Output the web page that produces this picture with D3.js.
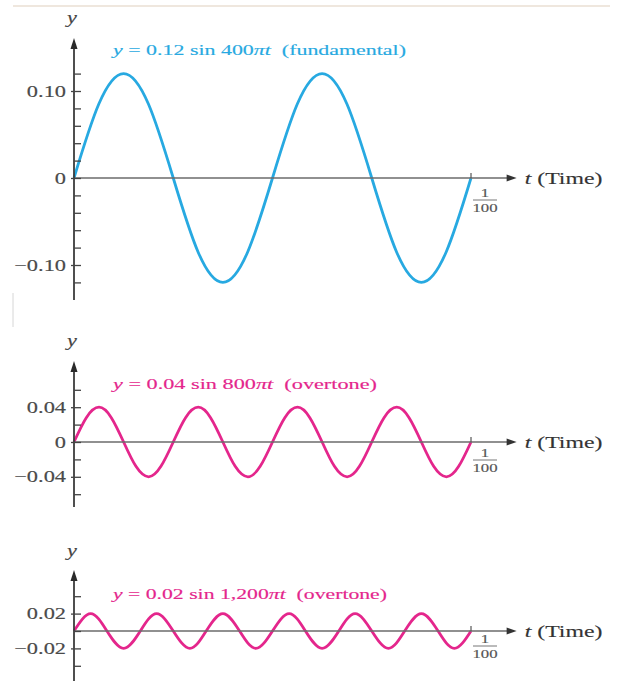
<!DOCTYPE html>
<html>
<head>
<meta charset="utf-8">
<script src="https://cdn.jsdelivr.net/npm/d3@7"></script>
<style>
  body { margin: 0; background: #fff; }
  text { white-space: pre; }
</style>
</head>
<body>
<div id="chart"></div>
<script>
// sample points (t in ms, y in the plotted units)
const tFund = [0, 0.625, 1.25, 1.875, 2.5, 3.125, 3.75, 4.375, 5, 5.625, 6.25, 6.875, 7.5, 8.125, 8.75, 9.375, 10];
const yFund = [0, 0.085, 0.12, 0.085, 0, -0.085, -0.12, -0.085, 0, 0.085, 0.12, 0.085, 0, -0.085, -0.12, -0.085, 0];

const tOver1 = [0, 0.31, 0.63, 0.94, 1.25, 1.56, 1.88, 2.19, 2.5, 2.81, 3.13, 3.44, 3.75, 4.06, 4.38, 4.69,
  5, 5.31, 5.63, 5.94, 6.25, 6.56, 6.88, 7.19, 7.5, 7.81, 8.13, 8.44, 8.75, 9.06, 9.38, 9.69, 10];
const yOver1 = [0, 0.028, 0.04, 0.028, 0, -0.028, -0.04, -0.028, 0, 0.028, 0.04, 0.028, 0, -0.028, -0.04, -0.028,
  0, 0.028, 0.04, 0.028, 0, -0.028, -0.04, -0.028, 0, 0.028, 0.04, 0.028, 0, -0.028, -0.04, -0.028, 0];

const tOver2 = [0, 0.42, 0.83, 1.25, 1.67, 2.08, 2.5, 2.92, 3.33, 3.75, 4.17, 4.58, 5, 5.42, 5.83, 6.25,
  6.67, 7.08, 7.5, 7.92, 8.33, 8.75, 9.17, 9.58, 10];
const yOver2 = [0, 0.02, 0, -0.02, 0, 0.02, 0, -0.02, 0, 0.02, 0, -0.02, 0, 0.02, 0, -0.02,
  0, 0.02, 0, -0.02, 0, 0.02, 0, -0.02, 0];

// tick values and labels
const ticksFund = [-0.12, -0.10, -0.08, -0.06, -0.04, -0.02, 0, 0.02, 0.04, 0.06, 0.08, 0.10, 0.12];
const labelsFund = { "0.1": "0.10", "0": "0", "-0.1": "\u22120.10" };
const ticksOver1 = [-0.06, -0.04, -0.02, 0, 0.02, 0.04, 0.06];
const labelsOver1 = { "0.04": "0.04", "0": "0", "-0.04": "\u22120.04" };
const ticksOver2 = [-0.04, -0.02, 0, 0.02, 0.04];
const labelsOver2 = { "0.02": "0.02", "-0.02": "\u22120.02" };

const titleFund = [["y", true], [" = 0.12 sin 400", false], ["\u03c0t", true], ["  (fundamental)", false]];
const titleOver1 = [["y", true], [" = 0.04 sin 800", false], ["\u03c0t", true], ["  (overtone)", false]];
const titleOver2 = [["y", true], [" = 0.02 sin 1,200", false], ["\u03c0t", true], ["  (overtone)", false]];

const width = 623, height = 681;
const sx = 1.4;          // the source picture is stretched horizontally
const serif = "'Liberation Serif', 'Times New Roman', serif";
const blue = "#27a9e1", pink = "#e4268c";

const svg = d3.select("#chart").append("svg")
  .attr("width", width)
  .attr("height", height);

// faint scan edges
svg.append("line").attr("x1", 13).attr("x2", 610).attr("y1", 6).attr("y2", 6)
  .attr("stroke", "#eadfd3").attr("stroke-width", 1.5);
svg.append("line").attr("x1", 13).attr("x2", 13).attr("y1", 293).attr("y2", 327)
  .attr("stroke", "#d6d6d6").attr("stroke-width", 1);

const x = d3.scaleLinear().domain([0, 10]).range([74, 471]);
const pxPerUnit = 870;

const panels = [
  { t: tFund, y: yFund, ticks: ticksFund, labels: labelsFund, title: titleFund, color: blue,
    zero: 178, top: 38, bottom: 300, yLab: 23, titleY: 55, titleW: 293, fracDy: 19 },
  { t: tOver1, y: yOver1, ticks: ticksOver1, labels: labelsOver1, title: titleOver1, color: pink,
    zero: 442, top: 361, bottom: 507, yLab: 346, titleY: 389, titleW: 264, fracDy: 15 },
  { t: tOver2, y: yOver2, ticks: ticksOver2, labels: labelsOver2, title: titleOver2, color: pink,
    zero: 631, top: 570, bottom: 690, yLab: 556, titleY: 599, titleW: 274, fracDy: 12 }
];

function stretched(g, px, py, size, fill) {
  return g.append("text")
    .attr("transform", `translate(${px},${py}) scale(${sx},1)`)
    .attr("font-family", serif)
    .attr("font-size", size)
    .attr("fill", fill)
    .attr("stroke", fill)
    .attr("stroke-width", 0.15);
}

panels.forEach(p => {
  const y = d3.scaleLinear().domain([0, 0.1]).range([p.zero, p.zero - 0.1 * pxPerUnit]);
  const g = svg.append("g");
  const x0 = x(0);

  // curve
  const line = d3.line()
    .x((d, i) => x(p.t[i]))
    .y(d => y(d))
    .curve(d3.curveNatural);
  g.append("path")
    .datum(p.y)
    .attr("fill", "none")
    .attr("stroke", p.color)
    .attr("stroke-width", 2.8)
    .attr("d", line);

  // horizontal axis with arrow
  const xEnd = x(11.15);
  g.append("line").attr("x1", x0).attr("x2", xEnd - 6).attr("y1", p.zero).attr("y2", p.zero)
    .attr("stroke", "#6b6b6b").attr("stroke-width", 1.6);
  g.append("path")
    .attr("d", `M${xEnd - 10},${p.zero - 3.5}L${xEnd},${p.zero}L${xEnd - 10},${p.zero + 3.5}Z`)
    .attr("fill", "#333");
  g.append("line").attr("x1", x(10)).attr("x2", x(10)).attr("y1", p.zero - 5).attr("y2", p.zero)
    .attr("stroke", "#555").attr("stroke-width", 1.2);

  // 1/100 fraction
  const fx = x(10) + 14;
  stretched(g, fx, p.zero + p.fracDy, 12, "#555").attr("text-anchor", "middle").text("1");
  g.append("line").attr("x1", fx - 12).attr("x2", fx + 12)
    .attr("y1", p.zero + p.fracDy + 3).attr("y2", p.zero + p.fracDy + 3)
    .attr("stroke", "#666").attr("stroke-width", 0.9);
  stretched(g, fx, p.zero + p.fracDy + 15, 12, "#555").attr("text-anchor", "middle").text("100");

  // t (Time)
  const tl = stretched(g, xEnd + 8, p.zero + 6, 17, "#333");
  tl.append("tspan").attr("font-style", "italic").text("t");
  tl.append("tspan").text(" (Time)");

  // vertical axis with arrow
  g.append("line").attr("x1", x0).attr("x2", x0).attr("y1", p.bottom).attr("y2", p.top + 8)
    .attr("stroke", "#3c3c3c").attr("stroke-width", 1.8);
  g.append("path")
    .attr("d", `M${x0 - 3.5},${p.top + 11}L${x0},${p.top}L${x0 + 3.5},${p.top + 11}Z`)
    .attr("fill", "#2a2a2a");

  // minor ticks to the right
  g.append("g")
    .attr("transform", `translate(${x0},0)`)
    .call(d3.axisRight(y).tickValues(p.ticks).tickSize(7).tickFormat(""))
    .call(a => a.select(".domain").remove())
    .call(a => a.selectAll("line").attr("stroke", "#444").attr("stroke-width", 1.3));

  // labelled ticks
  const keys = Object.keys(p.labels).map(Number);
  g.append("g")
    .attr("transform", `translate(${x0},0)`)
    .call(d3.axisLeft(y).tickValues(keys).tickSizeInner(3).tickSizeOuter(0).tickPadding(5)
      .tickFormat(d => p.labels[String(+d.toFixed(2))]))
    .call(a => a.select(".domain").remove())
    .call(a => a.selectAll("line").attr("stroke", "#444").attr("stroke-width", 1.3))
    .call(a => a.selectAll("text")
      .attr("font-family", serif)
      .attr("font-size", 16)
      .attr("fill", "#4a4a4a")
      .attr("stroke", "#4a4a4a")
      .attr("stroke-width", 0.15)
      .attr("x", -8 / sx)
      .attr("transform", `scale(${sx},1)`));

  // y label
  stretched(g, x0 - 2, p.yLab, 16, "#444").attr("text-anchor", "middle").attr("font-style", "italic")
    .text("y");

  // title, fitted to the width it has in the picture
  const tt = stretched(g, 113, p.titleY, 15, p.color)
    .attr("textLength", p.titleW / sx)
    .attr("lengthAdjust", "spacingAndGlyphs");
  p.title.forEach(([s, it]) => {
    tt.append("tspan").attr("font-style", it ? "italic" : "normal").text(s);
  });
});
</script>
</body>
</html>
